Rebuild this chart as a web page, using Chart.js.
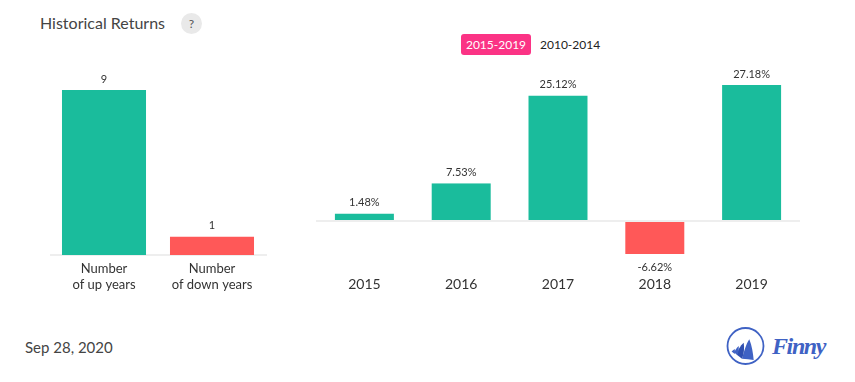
<!DOCTYPE html>
<html>
<head>
<meta charset="utf-8">
<script src="https://cdn.jsdelivr.net/npm/chart.js@4"></script>
<style>
body { margin: 0; background: #fff; font-family: Lato, sans-serif; width: 855px; height: 382px; overflow: hidden; position: relative; }
div, canvas, svg { position: absolute; }
#title { left: 40px; top: 13px; font-size: 16px; color: #444; line-height: 20px; }
#help { left: 181px; top: 13px; width: 21px; height: 21px; border-radius: 50%; background: #e9e9e9; color: #555; font-size: 12px; line-height: 21px; text-align: center; }
#active { left: 461px; top: 34px; width: 70px; height: 21px; border-radius: 3px; background: #fb3385; color: #fff; font-size: 12px; line-height: 22px; text-align: center; }
#other { left: 540px; top: 34px; color: #222; font-size: 12px; line-height: 22px; }
#date { left: 25px; top: 337px; font-size: 15px; color: #444; line-height: 20px; }
#finny { left: 772px; top: 332px; font-family: "Liberation Serif", serif; font-style: italic; font-weight: bold; font-size: 24px; letter-spacing: -1.4px; color: #3f62c4; line-height: 28px; }
</style>
</head>
<body>
<div id="title">Historical Returns</div>
<div id="help">?</div>
<div id="active">2015-2019</div>
<div id="other">2010-2014</div>
<canvas id="countChart" style="left:50px;top:70px"></canvas>
<canvas id="returnsChart" style="left:316px;top:51px"></canvas>
<div id="date">Sep 28, 2020</div>
<svg style="left:724px;top:326px" width="42" height="42" viewBox="0 0 42 42">
  <circle cx="21.5" cy="20" r="18" fill="none" stroke="#3f62c4" stroke-width="1.8"/>
  <path d="M25.3 13.3 C28 20 29 27 29.7 34 C26 33.5 22 33 18 32.7 C20 26 22 18 25.3 13.3Z" fill="#3f62c4"/>
  <path d="M19.7 16.7 C20.5 22 20 28 18 32.7 L12.5 28.5 C14 24 16 20 19.7 16.7Z" fill="#2f4fb0"/>
  <path d="M14.7 20 C15 23 14.5 26 13.6 29 L10 26.5 C11 24.5 12.5 22 14.7 20Z" fill="#3f62c4"/>
  <path d="M10.7 23 C11 24.5 11 26 10.8 28 L7.6 25.5 C8.5 24.8 9.5 24 10.7 23Z" fill="#3f62c4"/>
</svg>
<div id="finny">Finny</div>

<script>
const countLabels = [['Number', 'of up years'], ['Number', 'of down years']];
const countValues = [9, 1];

const returnYears = ['2015', '2016', '2017', '2018', '2019'];
const returnValues = [1.48, 7.53, 25.12, -6.62, 27.18];

const upColor = '#1abc9c';
const downColor = '#ff5858';
const axisColor = '#eeeeee';

Chart.defaults.font.family = 'Lato, sans-serif';
Chart.defaults.animation = false;

function barColor(ctx) {
    return ctx.raw < 0 ? downColor : upColor;
}

// writes the value above or below each bar
function valueLabels(suffix) {
    return {
        id: 'valueLabels',
        afterDatasetsDraw(chart) {
            const c = chart.ctx;
            const data = chart.data.datasets[0].data;
            c.save();
            c.font = '11px Lato';
            c.fillStyle = '#333';
            c.textAlign = 'center';
            c.textBaseline = 'middle';
            chart.getDatasetMeta(0).data.forEach(function (bar, i) {
                const y = data[i] < 0 ? bar.y + 13 : bar.y - 11;
                c.fillText(data[i] + suffix, bar.x, y);
            });
            c.restore();
        }
    };
}

function setSize(id, w, h) {
    const el = document.getElementById(id);
    el.width = w;
    el.height = h;
    return el.getContext('2d');
}

new Chart(setSize('countChart', 217, 225), {
    type: 'bar',
    data: {
        labels: countLabels,
        datasets: [{
            data: countValues,
            backgroundColor: [upColor, downColor],
            barPercentage: 0.778,
            categoryPercentage: 1
        }]
    },
    options: {
        responsive: false,
        layout: { padding: { right: 1 } },
        plugins: { legend: { display: false }, tooltip: { enabled: false } },
        scales: {
            x: {
                afterFit: function (s) { s.height = 40; },
                grid: { display: false, drawTicks: false },
                border: { color: axisColor, width: 2 },
                ticks: { color: '#333', font: { size: 13, lineHeight: 1.23 }, padding: 6, maxRotation: 0 }
            },
            y: { display: false, min: 0, max: 10.09 }
        }
    },
    plugins: [valueLabels('')]
});

new Chart(setSize('returnsChart', 484, 250), {
    type: 'bar',
    data: {
        labels: returnYears,
        datasets: [{
            data: returnValues,
            backgroundColor: barColor,
            borderColor: '#fff',
            borderWidth: { left: 1, right: 1, top: 0, bottom: 0 },
            barPercentage: 0.63,
            categoryPercentage: 1
        }]
    },
    options: {
        responsive: false,
        plugins: { legend: { display: false }, tooltip: { enabled: false } },
        scales: {
            x: {
                afterFit: function (s) { s.height = 30; },
                grid: { display: false, drawTicks: false },
                border: { display: false },
                ticks: { color: '#333', font: { size: 14 }, padding: 5 }
            },
            y: {
                min: -10,
                max: 34,
                afterFit: function (s) { s.width = 0; },
                border: { display: false },
                ticks: { display: false, stepSize: 10 },
                grid: {
                    drawTicks: false,
                    lineWidth: 2,
                    color: function (ctx) { return ctx.tick.value === 0 ? axisColor : 'transparent'; }
                }
            }
        }
    },
    plugins: [valueLabels('%')]
});
</script>
</body>
</html>
